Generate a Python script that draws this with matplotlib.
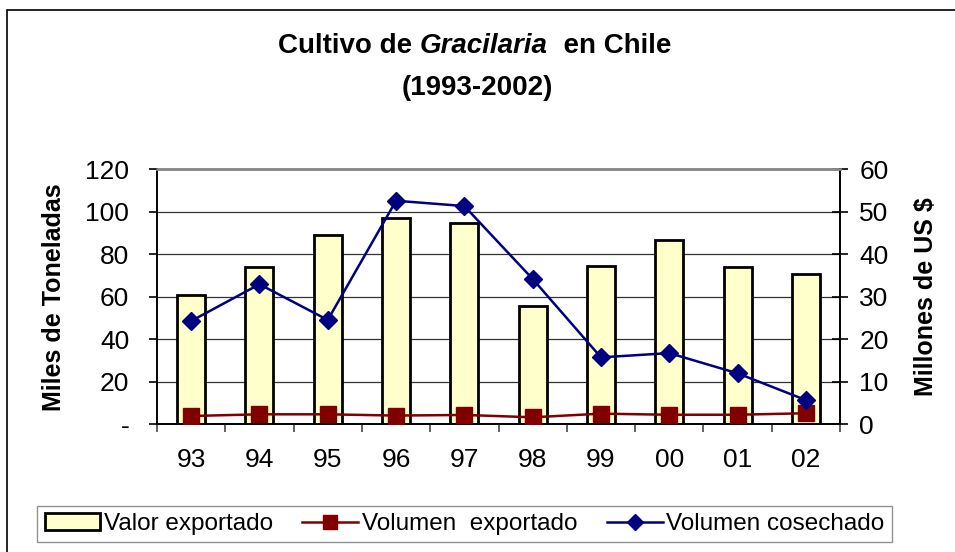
import numpy as np
import matplotlib.pyplot as plt
from matplotlib.patches import Rectangle
from matplotlib.lines import Line2D

# datos
anios = ['93', '94', '95', '96', '97', '98', '99', '00', '01', '02']
valor_exportado = [30.4, 37.0, 44.5, 48.5, 47.4, 27.8, 37.3, 43.4, 37.0, 35.3]   # millones US$
volumen_exportado = [3.9, 4.7, 4.7, 4.1, 4.4, 3.3, 5.0, 4.5, 4.5, 5.2]        # miles de t
volumen_cosechado = [48.6, 65.9, 49.1, 105.2, 102.7, 68.4, 31.5, 33.5, 24.0, 11.4]  # miles de t

left_ticks = [0, 20, 40, 60, 80, 100, 120]
left_labels = ['-', '20', '40', '60', '80', '100', '120']
right_ticks = [0, 10, 20, 30, 40, 50, 60]

plt.rcParams['font.family'] = ['Liberation Sans', 'DejaVu Sans']

fig = plt.figure(figsize=(9.55, 5.52), dpi=100)
W, H = 955, 552

# marco exterior (solo se ve izquierda y arriba)
fig.add_artist(Rectangle((7 / W, -0.1), 1.2, 1 - 10 / H + 0.1, transform=fig.transFigure,
                         fill=False, edgecolor='black', linewidth=1.2))

ax = fig.add_axes([157 / W, 1 - 424.3 / H, (840 - 157) / W, (424.3 - 169.3) / H])
ax2 = ax.twinx()
ax2.set_zorder(ax.get_zorder() - 1)
ax.patch.set_visible(False)

x = np.arange(len(anios))

# barras (eje derecho)
ax2.bar(x, valor_exportado, width=0.41, color='#FFFFCC', edgecolor='black', linewidth=2.0, zorder=2)
ax2.set_ylim(0, 60)
ax2.set_yticks(right_ticks)
ax2.yaxis.grid(True, color='#333333', linewidth=0.9, zorder=0)
ax2.set_axisbelow(True)

# lineas (eje izquierdo)
ax.plot(x, volumen_exportado, color='#800000', linewidth=1.8, marker='s', markersize=11, zorder=3)
ax.plot(x, volumen_cosechado, color='#000080', linewidth=1.8, marker='D', markersize=9.5, zorder=4)
ax.set_ylim(0, 120)
ax.set_xlim(-0.5, len(anios) - 0.5)
ax.set_yticks(left_ticks)
ax.set_yticklabels(left_labels)

ax.set_xticks(x)
ax.set_xticklabels(anios)
ax.set_xticks(np.arange(-0.5, len(anios)), minor=True)
ax.tick_params(axis='x', which='major', length=0, pad=17, labelsize=19)
ax.tick_params(axis='x', which='minor', length=6, width=1.2, direction='out', color='#444444')
ax.tick_params(axis='y', length=6, width=1.2, pad=14, labelsize=19)
ax2.tick_params(axis='y', length=12, width=1.2, direction='inout', pad=8, labelsize=19)

for a in (ax, ax2):
    a.spines['top'].set_color('#888888')
    a.spines['top'].set_linewidth(1.8)
    a.spines['left'].set_linewidth(1.2)
    a.spines['right'].set_linewidth(1.2)
    a.spines['bottom'].set_linewidth(1.2)

ax.set_ylabel('Miles de Toneladas', fontsize=18, fontweight='bold', labelpad=14)
ax2.set_ylabel('Millones de US $', fontsize=18, fontweight='bold', labelpad=18)

# titulo con parte en cursiva
t1 = fig.text(278 / W, 1 - 46 / H, 'Cultivo de ', fontsize=20, fontweight='bold', va='center')
fig.canvas.draw()
r = fig.canvas.get_renderer()
bb = t1.get_window_extent(r)
t2 = fig.text(bb.x1 / W, 1 - 46 / H, 'Gracilaria', fontsize=20, fontweight='bold', style='italic', va='center')
bb2 = t2.get_window_extent(r)
fig.text(bb2.x1 / W, 1 - 46 / H, '  en Chile', fontsize=20, fontweight='bold', va='center')
fig.text(0.5, 1 - 88 / H, '(1993-2002)', fontsize=20, fontweight='bold', ha='center', va='center')

handles = [
    Rectangle((0, 0), 1, 1, facecolor='#FFFFCC', edgecolor='black', linewidth=2.0),
    Line2D([], [], color='#800000', linewidth=1.8, marker='s', markersize=10),
    Line2D([], [], color='#000080', linewidth=1.8, marker='D', markersize=8),
]
leg = fig.legend(handles, ['Valor exportado', 'Volumen  exportado', 'Volumen cosechado'],
                 loc='center', bbox_to_anchor=((37 + 892) / 2 / W, 1 - 524 / H), ncol=3,
                 frameon=True, fancybox=False, edgecolor='#777777',
                 prop={'size': 17.5},
                 handlelength=2.3, handletextpad=0.15, columnspacing=1.2, borderpad=0.3)
leg.get_frame().set_linewidth(1.0)

fig.savefig('out.png', dpi=100)
